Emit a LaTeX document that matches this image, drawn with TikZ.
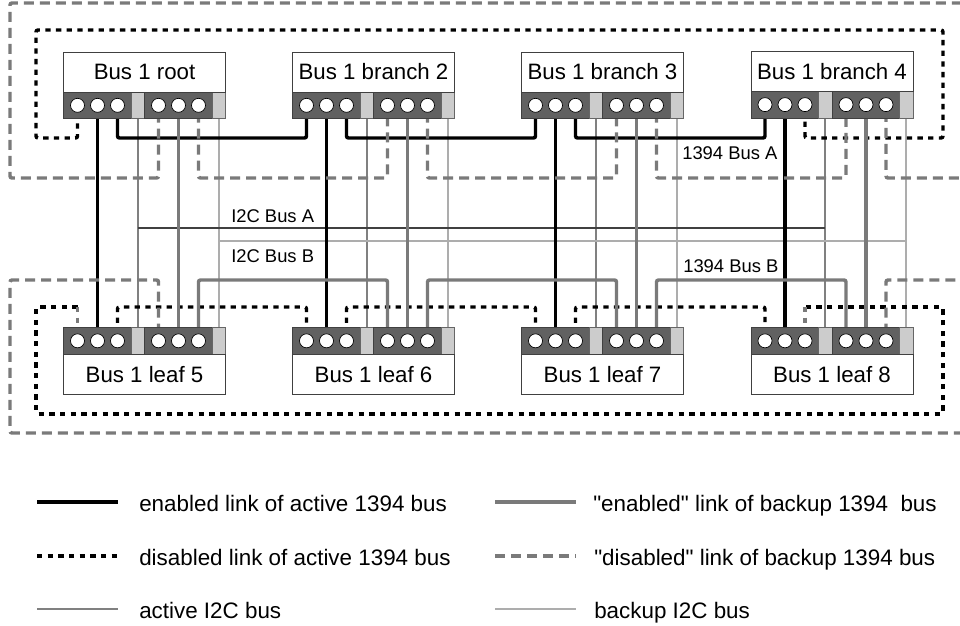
\documentclass[tikz,border=0pt]{standalone}
\usepackage{fontspec}
\setmainfont{Liberation Sans}
\definecolor{stripdark}{gray}{0.38}
\definecolor{striplight}{gray}{0.80}
\definecolor{bakgray}{gray}{0.48}
\definecolor{i2cagray}{gray}{0.50}
\definecolor{i2cbgray}{gray}{0.68}
\usetikzlibrary{positioning,backgrounds}

\begin{document}
\begin{tikzpicture}[
      x=0.75pt, y=-0.75pt,
      devbox/.style={draw=black!75, fill=white, line width=0.7pt, inner sep=0pt, outer sep=0pt,
                  minimum width=121.5pt, minimum height=30pt,
                  font=\fontsize{16.7}{18}\selectfont},
      portd/.style={draw=black!75, fill=stripdark, line width=0.7pt, inner sep=0pt, outer sep=0pt,
                  minimum width=50.6pt, minimum height=20pt},
      portg/.style={draw=black!60, fill=striplight, line width=0.5pt, inner sep=0pt, outer sep=0pt,
                  minimum width=10.15pt, minimum height=20pt},
      hole/.style={circle, draw=black, fill=white, line width=0.5pt, inner sep=0pt, minimum size=10.5pt},
      lbl/.style={anchor=base west, inner sep=0pt, font=\fontsize{13.8}{15}\selectfont},
      keytxt/.style={anchor=base west, inner sep=0pt, font=\fontsize{16.8}{18}\selectfont},
      ena/.style={line width=2.6pt, draw=black, rounded corners=1.5pt},
      dis/.style={line width=2.6pt, draw=black, dash pattern=on 4pt off 4pt, rounded corners=1.5pt},
      disstub/.style={line width=2.6pt, draw=bakgray, dash pattern=on 4pt off 4pt},
      baken/.style={line width=2.6pt, draw=bakgray, rounded corners=1.5pt},
      bakdis/.style={line width=2.6pt, draw=bakgray, dash pattern=on 7.5pt off 4.5pt, rounded corners=1.5pt},
      i2ca/.style={line width=1.2pt, draw=i2cagray},
      i2cb/.style={line width=1.2pt, draw=i2cbgray},
      i2cabar/.style={line width=0.8pt, draw=black!75},
      i2cbbar/.style={line width=0.8pt, draw=i2cbgray}
  ]
    \useasboundingbox (0,0) rectangle (960,625);

    % routing levels
    \coordinate (topA) at (0,138);
    \coordinate (topB) at (0,178);
    \coordinate (midA) at (0,228);
    \coordinate (midB) at (0,241);
    \coordinate (botB) at (0,280);
    \coordinate (botA) at (0,307);
    \coordinate (ringAn) at (36,30);
    \coordinate (ringAs) at (36,414);
    \coordinate (ringAe) at (943,30);
    \coordinate (ringBn) at (10,3);
    \coordinate (ringBs) at (10,433);
    \coordinate (edge) at (960,3);

    % port strips
    \foreach \dev/\xpos/\ypos in {root/63.5/92, brtwo/292.5/92, brthree/521.5/92, brfour/751/91.3,
        leaffive/63.5/327.5, leafsix/292.5/327.5, leafseven/521.5/327.5, leafeight/751/327.5} {
      \node[portd, anchor=north west] (\dev-d1) at (\xpos,\ypos) {};
      \node[portg, right=0pt of \dev-d1] (\dev-g1) {};
      \node[portd, right=0pt of \dev-g1] (\dev-d2) {};
      \node[portg, right=0pt of \dev-d2] (\dev-g2) {};
      \foreach \n/\s/\off in {1/1/10.5, 2/1/25.5, 3/1/40.5, 4/2/10.5, 5/2/25.5, 6/2/40.5}
        \node[hole] (\dev-p\n) at ([xshift=\off pt]\dev-d\s.west) {};
    }

    \node[devbox, anchor=south west] (root) at (root-d1.north west) {Bus 1 root};
    \node[devbox, anchor=south west] (brtwo) at (brtwo-d1.north west) {Bus 1 branch 2};
    \node[devbox, anchor=south west] (brthree) at (brthree-d1.north west) {Bus 1 branch 3};
    \node[devbox, anchor=south west] (brfour) at (brfour-d1.north west) {Bus 1 branch 4};
    \node[devbox, anchor=north west] (leaffive) at (leaffive-d1.south west) {Bus 1 leaf 5};
    \node[devbox, anchor=north west] (leafsix) at (leafsix-d1.south west) {Bus 1 leaf 6};
    \node[devbox, anchor=north west] (leafseven) at (leafseven-d1.south west) {Bus 1 leaf 7};
    \node[devbox, anchor=north west] (leafeight) at (leafeight-d1.south west) {Bus 1 leaf 8};

    \begin{scope}[on background layer]
      % I2C buses
      \foreach \a/\b in {root/leaffive, brtwo/leafsix, brthree/leafseven, brfour/leafeight} {
        \draw[i2ca] (\a-g1) -- (\b-g1);
        \draw[i2cb] (\a-g2) -- (\b-g2);
      }
      \draw[i2cabar] (root-g1 |- midA) -- (brfour-g1 |- midA);
      \draw[i2cbbar] (root-g2 |- midB) -- (brfour-g2 |- midB);

      % active 1394 bus
      \foreach \a/\b in {root/leaffive, brtwo/leafsix, brthree/leafseven, brfour/leafeight}
        \draw[ena] (\a-p2) -- (\b-p2);
      \foreach \a/\b in {root/brtwo, brtwo/brthree, brthree/brfour}
        \draw[ena] (\a-p3) -- (\a-p3 |- topA) -- (\b-p1 |- topA) -- (\b-p1);
      \foreach \a/\b in {leaffive/leafsix, leafsix/leafseven, leafseven/leafeight}
        \draw[dis] (\a-p3) -- (\a-p3 |- botA) -- (\b-p1 |- botA) -- (\b-p1);
      \draw[dis] (root-p1) -- (root-p1 |- topA) -- (ringAn |- topA) -- (ringAn)
        -- (ringAe) -- (ringAe |- topA) -- (brfour-p3 |- topA) -- (brfour-p3);
      \draw[dis] (leaffive-p1 |- botA) -- (ringAn |- botA) -- (ringAs)
        -- (ringAe |- ringAs) -- (ringAe |- botA) -- (leafeight-p3 |- botA);
      \draw[disstub] (leaffive-p1 |- botA) -- (leaffive-p1);
      \draw[disstub] (leafeight-p3 |- botA) -- (leafeight-p3);

      % backup 1394 bus
      \foreach \a/\b in {root/leaffive, brtwo/leafsix, brthree/leafseven, brfour/leafeight}
        \draw[baken] (\a-p5) -- (\b-p5);
      \foreach \a/\b in {root/brtwo, brtwo/brthree, brthree/brfour}
        \draw[bakdis] (\a-p6) -- (\a-p6 |- topB) -- (\b-p4 |- topB) -- (\b-p4);
      \foreach \a/\b in {leaffive/leafsix, leafsix/leafseven, leafseven/leafeight}
        \draw[baken] (\a-p6) -- (\a-p6 |- botB) -- (\b-p4 |- botB) -- (\b-p4);
      \draw[bakdis] (root-p4) -- (root-p4 |- topB) -- (ringBn |- topB) -- (ringBn) -- (edge);
      \draw[bakdis] (brfour-p6) -- (brfour-p6 |- topB) -- (edge |- topB);
      \draw[bakdis] (leaffive-p4) -- (leaffive-p4 |- botB) -- (ringBn |- botB) -- (ringBs) -- (edge |- ringBs);
      \draw[bakdis] (leafeight-p6) -- (leafeight-p6 |- botB) -- (edge |- botB);
    \end{scope}

    \node[lbl] (lblca) at (231,222) {I2C Bus A};
    \node[lbl] (lblcb) at (231,262.5) {I2C Bus B};
    \node[lbl] (lblfa) at (682,159) {1394 Bus A};
    \node[lbl] (lblfb) at (683,272.5) {1394 Bus B};

    % key
    \foreach \n/\sty/\xa/\xb/\xt/\yl/\yt/\txt in {
        1/ena/37/118/139/502/511/enabled link of active 1394 bus,
        2/dis/37/118/139/556/565/disabled link of active 1394 bus,
        3/i2ca/37/118/139/609/618/active I2C bus,
        4/baken/495/576/593/502/511/\textquotedbl enabled\textquotedbl{} link of backup 1394\ \ bus,
        5/bakdis/495/576/594/556/565/\textquotedbl disabled\textquotedbl{} link of backup 1394 bus,
        6/i2cb/495/576/594/609/618/backup I2C bus} {
      \coordinate (key\n a) at (\xa,\yl);
      \coordinate (key\n b) at (\xb,\yl);
      \draw[\sty] (key\n a) -- (key\n b);
      \node[keytxt] (keylbl\n) at (\xt,\yt) {\txt};
    }
  \end{tikzpicture}
\end{document}
